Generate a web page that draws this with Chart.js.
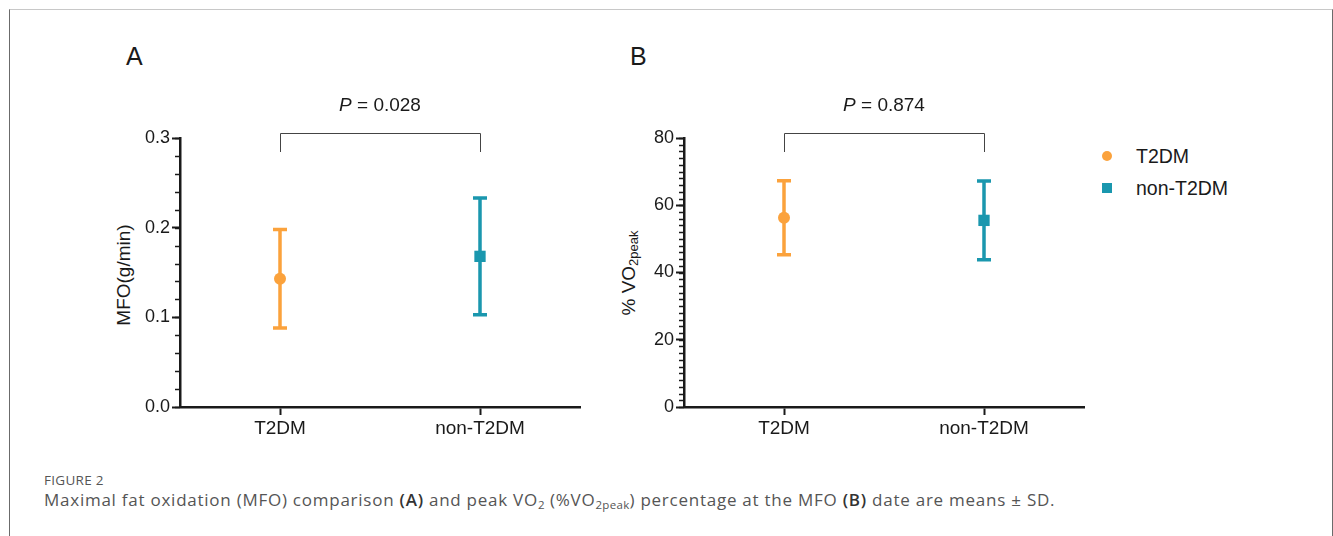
<!DOCTYPE html>
<html>
<head>
<meta charset="utf-8">
<script src="https://cdn.jsdelivr.net/npm/chart.js@4.4.0/dist/chart.umd.min.js"></script>
<style>
  body { margin: 0; width: 1333px; height: 536px; background: #fff; position: relative; overflow: hidden; font-family: "Liberation Sans", Arial, sans-serif; color: #1a1a1a; }
  .frame { position: absolute; left: 9px; top: 9px; width: 1322px; height: 540px; border-left: 1.5px solid #6b6b6b; border-right: 1.5px solid #6b6b6b; border-top: 1.5px solid #c8c8c8; }
  canvas { position: absolute; }
  .panel { position: absolute; font-size: 25px; }
  .ytitle { position: absolute; font-size: 19px; white-space: nowrap; transform: translate(-50%, -50%) rotate(-90deg); }
  .ytitle sub { font-size: 13px; vertical-align: -3px; }
  .legend { position: absolute; left: 1102px; top: 141px; font-size: 19.5px; }
  .legend div { height: 32px; line-height: 30px; position: relative; padding-left: 34px; }
  .legend span { position: absolute; left: 0; top: 10px; width: 10px; height: 10px; }
  .fig { position: absolute; left: 44px; top: 471px; font-family: "Open Sans", sans-serif; font-size: 13.5px; color: #555; letter-spacing: 0.3px; }
  .cap { position: absolute; left: 44px; top: 488px; font-family: "Open Sans", sans-serif; font-size: 17px; color: #555; white-space: nowrap; letter-spacing: 0.75px; }
  .cap sub { font-size: 11.5px; vertical-align: -3px; letter-spacing: 0.3px; }
  .cap b { font-weight: 600; color: #333; }
</style>
</head>
<body>
<div class="frame"></div>
<div class="panel" style="left:126px; top:42px;">A</div>
<div class="panel" style="left:630px; top:42px;">B</div>
<div class="ytitle" style="left:124px; top:275px;">MFO(g/min)</div>
<div class="ytitle" style="left:629px; top:273px;">% VO<sub>2peak</sub></div>
<canvas id="chartA" width="486" height="350" style="left:102px; top:90px;"></canvas>
<canvas id="chartB" width="490" height="350" style="left:602px; top:90px;"></canvas>
<div class="legend">
  <div><span style="background:#FBA23C; border-radius:50%;"></span>T2DM</div>
  <div><span style="background:#1A97AE;"></span>non-T2DM</div>
</div>
<div class="fig">FIGURE 2</div>
<div class="cap">Maximal fat oxidation (MFO) comparison <b>(A)</b> and peak VO<sub>2</sub> (%VO<sub>2peak</sub>) percentage at the MFO <b>(B)</b> date are means ± SD.</div>

<script>
const categories = ['T2DM', 'non-T2DM'];
const groupColors = ['#FBA23C', '#1A97AE'];
const groupMarkers = ['circle', 'rect'];

// panel A: MFO (g/min), mean and SD
const mfoMean = [0.143, 0.168];
const mfoSD = [0.055, 0.065];
const mfoTicks = [0, 0.1, 0.2, 0.3];
const mfoP = '0.028';

// panel B: %VO2peak at MFO, mean and SD
const vo2Mean = [56.3, 55.5];
const vo2SD = [11.0, 11.7];
const vo2Ticks = [0, 20, 40, 60, 80];
const vo2P = '0.874';

Chart.defaults.font.family = '"Liberation Sans", Arial, sans-serif';
Chart.defaults.color = '#1a1a1a';

// error bars, minor ticks and the significance bracket
const extrasPlugin = {
  id: 'extras',
  beforeDatasetsDraw(chart, args, opts) {
    const { ctx, scales: { x, y } } = chart;
    ctx.save();
    ctx.lineWidth = 3.5;
    opts.means.forEach((m, i) => {
      const px = x.getPixelForValue(i);
      const top = y.getPixelForValue(m + opts.sd[i]);
      const bot = y.getPixelForValue(m - opts.sd[i]);
      ctx.strokeStyle = groupColors[i];
      ctx.beginPath();
      ctx.moveTo(px, top); ctx.lineTo(px, bot);
      ctx.moveTo(px - 7, top); ctx.lineTo(px + 7, top);
      ctx.moveTo(px - 7, bot); ctx.lineTo(px + 7, bot);
      ctx.stroke();
    });
    ctx.restore();
  },
  afterDraw(chart, args, opts) {
    const { ctx, chartArea, scales: { x, y } } = chart;
    ctx.save();
    // minor ticks
    ctx.strokeStyle = '#1a1a1a';
    ctx.lineWidth = 1.5;
    const steps = Math.round((y.max - y.min) / opts.minor);
    for (let k = 0; k <= steps; k++) {
      const v = y.min + k * opts.minor;
      const py = Math.round(y.getPixelForValue(v)) + 0.5;
      ctx.beginPath();
      ctx.moveTo(chartArea.left - 5, py);
      ctx.lineTo(chartArea.left, py);
      ctx.stroke();
    }
    // bracket
    const x0 = x.getPixelForValue(0), x1 = x.getPixelForValue(1);
    const by = chartArea.top - 4.5;
    ctx.strokeStyle = '#444';
    ctx.lineWidth = 1;
    ctx.beginPath();
    ctx.moveTo(x0 + 0.5, chartArea.top + 14);
    ctx.lineTo(x0 + 0.5, by);
    ctx.lineTo(x1 + 0.5, by);
    ctx.lineTo(x1 + 0.5, chartArea.top + 14);
    ctx.stroke();
    // P value
    const rest = ' = ' + opts.p;
    ctx.fillStyle = '#1a1a1a';
    ctx.textBaseline = 'middle';
    ctx.font = 'italic 19px "Liberation Sans", Arial, sans-serif';
    const wP = ctx.measureText('P').width;
    ctx.font = '19px "Liberation Sans", Arial, sans-serif';
    const wR = ctx.measureText(rest).width;
    const sx = (x0 + x1) / 2 - (wP + wR) / 2;
    const ty = chartArea.top - 32;
    ctx.font = 'italic 19px "Liberation Sans", Arial, sans-serif';
    ctx.fillText('P', sx, ty);
    ctx.font = '19px "Liberation Sans", Arial, sans-serif';
    ctx.fillText(rest, sx + wP, ty);
    ctx.restore();
  }
};

function createPanel({ canvas, means, sd, ticks, minor, yWidth, decimals, p }) {
  return new Chart(canvas, {
    type: 'scatter',
    data: {
      datasets: categories.map((c, i) => ({
        label: c,
        data: [{ x: i, y: means[i] }],
        pointStyle: groupMarkers[i],
        pointRadius: groupMarkers[i] === 'rect' ? 8 : 6,
        backgroundColor: groupColors[i],
        borderColor: groupColors[i],
        borderWidth: 0
      }))
    },
    options: {
      responsive: false,
      animation: false,
      layout: { padding: { top: 48, left: 0, right: 0, bottom: 0 } },
      plugins: {
        legend: { display: false },
        tooltip: { enabled: false },
        extras: { means, sd, minor, p }
      },
      scales: {
        x: {
          type: 'linear',
          min: -0.5,
          max: 1.5,
          afterBuildTicks: (scale) => { scale.ticks = categories.map((c, i) => ({ value: i })); },
          afterFit: (scale) => { scale.height = 33; },
          ticks: {
            callback: (v) => categories[v],
            font: { size: 19 },
            color: '#1a1a1a',
            padding: 2,
            maxRotation: 0
          },
          grid: { drawOnChartArea: false, tickLength: 8, tickWidth: 2, tickColor: '#1a1a1a' },
          border: { color: '#1a1a1a', width: 2.5 }
        },
        y: {
          min: ticks[0],
          max: ticks[ticks.length - 1],
          afterBuildTicks: (scale) => { scale.ticks = ticks.map((v) => ({ value: v })); },
          afterFit: (scale) => { scale.width = yWidth; },
          ticks: {
            callback: (v) => v.toFixed(decimals),
            font: { size: 18 },
            color: '#1a1a1a',
            padding: 2
          },
          grid: { drawOnChartArea: false, tickLength: 8, tickWidth: 2, tickColor: '#1a1a1a' },
          border: { color: '#1a1a1a', width: 2.5 }
        }
      }
    },
    plugins: [extrasPlugin]
  });
}

const chartA = createPanel({ canvas: document.getElementById('chartA'), means: mfoMean, sd: mfoSD, ticks: mfoTicks, minor: 0.02, yWidth: 78, decimals: 1, p: mfoP });
const chartB = createPanel({ canvas: document.getElementById('chartB'), means: vo2Mean, sd: vo2SD, ticks: vo2Ticks, minor: 2, yWidth: 82, decimals: 0, p: vo2P });
</script>
</body>
</html>
